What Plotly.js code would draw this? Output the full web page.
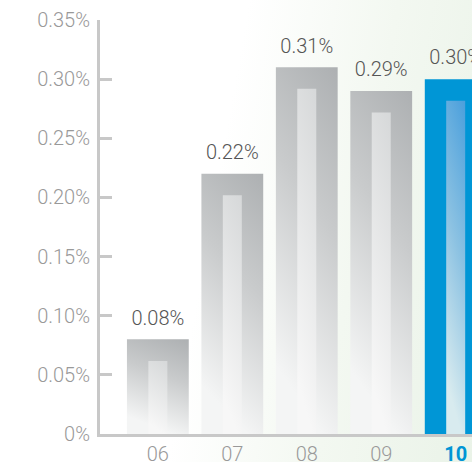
<!DOCTYPE html>
<html>
<head>
<meta charset="utf-8">
<script src="https://cdn.plot.ly/plotly-3.0.1.min.js"></script>
<style>
  html, body { margin: 0; padding: 0; width: 472px; height: 462px; overflow: hidden; }
  #chart { width: 472px; height: 462px;
    background: linear-gradient(100deg, #ffffff 45%, #f3f8f1 72%, #eaf3e8 100%); }
</style>
</head>
<body>
<div id="chart"></div>
<script>
// ---- data ----
const categories = ['06', '07', '08', '09', '10'];
const values = [0.08, 0.22, 0.31, 0.29, 0.30];          // percent
const valueLabels = ['0.08%', '0.22%', '0.31%', '0.29%', '0.30%'];
const xTickLabels = ['06', '07', '08', '09', '<b><span style="color:#0095d5">10</span></b>'];
const yTickVals = [0, 0.05, 0.10, 0.15, 0.20, 0.25, 0.30, 0.35];
const yTickLabels = ['0%', '0.05%', '0.10%', '0.15%', '0.20%', '0.25%', '0.30%', '0.35%'];

// ---- style ----
const innerInset = 0.0182;   // inner stripe top sits this far below the bar top
const fontFamily = 'Roboto, "Liberation Sans", Arial, sans-serif';

const outer = {
  type: 'bar', x: categories, y: values, width: 0.83,
  marker: { color: '#b3b5b7', line: { width: 0 } },
  hoverinfo: 'skip'
};
const inner = {
  type: 'bar', x: categories, y: values.map(v => v - innerInset), width: 0.255,
  marker: { color: '#dcdddf', line: { width: 0 } },
  hoverinfo: 'skip'
};
const labels = {
  type: 'scatter', mode: 'markers+text', x: categories, y: values,
  marker: { size: 14, color: 'rgba(0,0,0,0)' },
  text: valueLabels, textposition: 'top center', cliponaxis: false,
  textfont: { family: fontFamily, size: 20, color: '#555555', weight: 300 },
  hoverinfo: 'skip'
};

const layout = {
  width: 472, height: 462,
  margin: { l: 100, r: 0, t: 20, b: 28, pad: 0 },
  paper_bgcolor: 'rgba(0,0,0,0)', plot_bgcolor: 'rgba(0,0,0,0)',
  barmode: 'overlay', showlegend: false,
  font: { family: fontFamily },
  xaxis: {
    type: 'category', range: [-0.777, 4.219],
    tickvals: categories, ticktext: xTickLabels,
    showline: true, linecolor: '#c8c8c8', linewidth: 3,
    ticks: '', showgrid: false, zeroline: false,
    tickfont: { family: fontFamily, size: 20, color: '#999999', weight: 300 }
  },
  yaxis: {
    range: [0, 0.35], tickvals: yTickVals, ticktext: yTickLabels,
    showline: true, linecolor: '#c8c8c8', linewidth: 3,
    ticks: 'inside', ticklen: 12, tickwidth: 3, tickcolor: '#c8c8c8',
    ticklabelstandoff: 3,
    showgrid: false, zeroline: false,
    tickfont: { family: fontFamily, size: 20, color: '#999999', weight: 300 }
  }
};

Plotly.newPlot('chart', [outer, inner, labels], layout, { staticPlot: true, displayModeBar: false }).then(gd => {
  const svg = gd.querySelector('.main-svg');
  const NS = 'http://www.w3.org/2000/svg';
  let defs = svg.querySelector('defs');
  if (!defs) { defs = document.createElementNS(NS, 'defs'); svg.insertBefore(defs, svg.firstChild); }
  function grad(id, stops, x2, y2) {
    const g = document.createElementNS(NS, 'linearGradient');
    g.setAttribute('id', id);
    g.setAttribute('x1', '1'); g.setAttribute('y1', '0');
    g.setAttribute('x2', x2); g.setAttribute('y2', y2);
    stops.forEach(([o, c]) => {
      const s = document.createElementNS(NS, 'stop');
      s.setAttribute('offset', o); s.setAttribute('stop-color', c);
      g.appendChild(s);
    });
    defs.appendChild(g);
  }
  grad('gOuter', [[0, '#adb0b2'], [0.45, '#c9cbcc'], [1, '#f4f5f5']], '0.75', '1');
  grad('gInner', [[0, '#d6d8d9'], [1, '#f7f7f7']], '0.8', '1');
  grad('gBlueInner', [[0, '#4a9fdc'], [0.5, '#8cc2e2'], [1, '#d8ebef']], '0.8', '1');
  const traces = svg.querySelectorAll('.barlayer .trace');
  const outerPts = traces[0].querySelectorAll('.point path');
  const innerPts = traces[1].querySelectorAll('.point path');
  outerPts.forEach((p, i) => {
    p.style.fill = (i === categories.length - 1) ? '#0096d6' : 'url(#gOuter)';
  });
  innerPts.forEach((p, i) => {
    p.style.fill = (i === categories.length - 1) ? 'url(#gBlueInner)' : 'url(#gInner)';
  });
});
</script>
</body>
</html>
